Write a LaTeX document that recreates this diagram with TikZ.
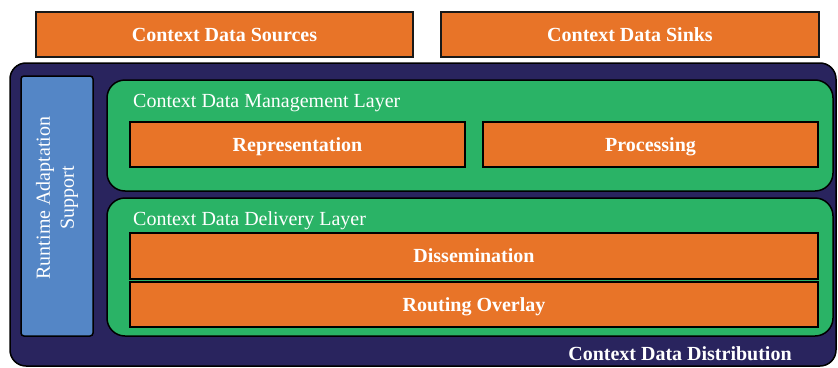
\documentclass[tikz,border=0pt]{standalone}
\usepackage{fontspec}
\setmainfont{Liberation Serif}
\usetikzlibrary{positioning}
\definecolor{blockorange}{RGB}{232,116,40}
\definecolor{layergreen}{RGB}{42,179,102}
\definecolor{distnavy}{RGB}{41,36,94}
\definecolor{adaptblue}{RGB}{84,134,198}
\tikzset{
  wtext/.style={text=white, font=\fontsize{20}{24}\selectfont},
  block/.style={draw=black, line width=2.4pt, fill=blockorange, inner sep=0pt,
    text=white, font=\fontsize{20}{24}\selectfont\bfseries, text height=13.2pt, text depth=0pt},
  ioblock/.style={block, draw=black!90, line width=1.8pt},
  layer/.style={draw=black, line width=1.5pt, fill=layergreen, rounded corners=18pt, inner sep=0pt},
  layerlabel/.style={wtext, anchor=base west, inner sep=0pt},
  sidebox/.style={draw=black, line width=1.5pt, fill=adaptblue, rounded corners=3pt, inner sep=0pt},
  distbox/.style={draw=black, line width=1.5pt, fill=distnavy, rounded corners=16pt, inner sep=0pt}
}

\begin{document}
\begin{tikzpicture}[x=1pt,y=-1pt]
  \useasboundingbox (0,0) rectangle (838,367);
  % sources and sinks on top
  \node[ioblock, minimum width=377, minimum height=45] (sources) at (224.5,34.5) {Context Data Sources};
  \node[ioblock, minimum width=378, minimum height=45] (sinks) at (630,34.5) {Context Data Sinks};
  % distribution frame
  \node[distbox, minimum width=826, minimum height=303] (dist) at (423,214.5) {};
  \node[wtext, font=\fontsize{20}{24}\selectfont\bfseries, anchor=base, inner sep=0pt] (distlabel) at (680,360) {Context Data Distribution};
  % adaptation column
  \node[sidebox, minimum width=72, minimum height=260] (adapt) at (57,206) {};
  \node[wtext, rotate=90, align=center, inner sep=0pt] (adaptlabel) at (57,198) {Runtime Adaptation\\Support};
  % management layer
  \node[layer, minimum width=726, minimum height=111] (mgmt) at (470,135.5) {};
  \node[layerlabel] (mgmtlabel) at (133,107) {Context Data Management Layer};
  \node[block, minimum width=335, minimum height=45] (repr) at (297.5,144.5) {Representation};
  \node[block, minimum width=335, minimum height=45] (proc) at (650.5,144.5) {Processing};
  % delivery layer
  \node[layer, minimum width=726, minimum height=138] (delivery) at (470,267) {};
  \node[layerlabel] (deliverylabel) at (133,225) {Context Data Delivery Layer};
  \node[block, minimum width=688, minimum height=46] (dissem) at (474,256) {Dissemination};
  \node[block, minimum width=688, minimum height=45] (routing) at (474,304.5) {Routing Overlay};
\end{tikzpicture}
\end{document}
